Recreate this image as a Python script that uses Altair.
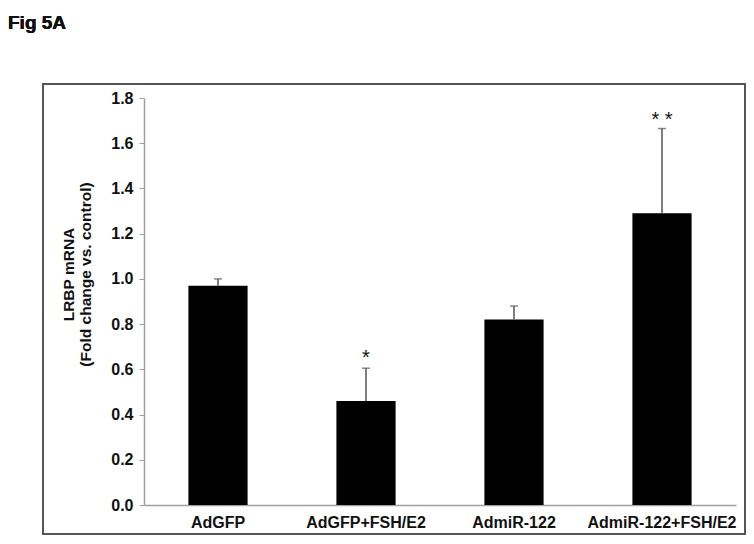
import altair as alt
import pandas as pd

groups = ["AdGFP", "AdGFP+FSH/E2", "AdmiR-122", "AdmiR-122+FSH/E2"]
means = [0.97, 0.46, 0.82, 1.29]
errors = [0.03, 0.145, 0.06, 0.375]
stars = ["", "*", "", "* *"]
star_pos = [None, 0.665, None, 1.715]

df = pd.DataFrame({"group": groups, "mean": means, "err": errors})
df["top"] = df["mean"] + df["err"]
sdf = pd.DataFrame({"group": groups, "star": stars, "pos": star_pos}).dropna()

W, H = 592, 407
FONT = "Liberation Sans"

xenc = alt.X("group:N", sort=groups, title=None,
             scale=alt.Scale(paddingInner=0.6, paddingOuter=0.3),
             axis=alt.Axis(labelAngle=0, labelFont=FONT, labelFontSize=16,
                           labelFontWeight="bold", labelColor="#111",
                           labelPadding=9, ticks=False, domainColor="#a0a0a0",
                           domainWidth=1.5))
yscale = alt.Scale(domain=[0, 1.8])

bars = alt.Chart(df).mark_bar(color="black").encode(
    x=xenc,
    y=alt.Y("mean:Q", scale=yscale,
            title=["LRBP mRNA", "(Fold change vs. control)"],
            axis=alt.Axis(values=[0, 0.2, 0.4, 0.6, 0.8, 1.0, 1.2, 1.4, 1.6, 1.8],
                          format=".1f", grid=False, labelFont=FONT, labelFontSize=16,
                          labelFontWeight="bold", labelColor="#111", labelPadding=6,
                          tickColor="#a0a0a0", tickSize=5, domainColor="#a0a0a0",
                          domainWidth=1.5, titleFont=FONT, titleFontSize=15.5,
                          titleFontWeight="bold", titleColor="#111",
                          titleX=-68, titleY=176, titleLineHeight=17)),
)

rules = alt.Chart(df).mark_rule(color="#555", strokeWidth=1.5).encode(
    x=alt.X("group:N", sort=groups), y="mean:Q", y2="top:Q")
caps = alt.Chart(df).mark_tick(color="#555", thickness=1.5, size=8).encode(
    x=alt.X("group:N", sort=groups), y="top:Q")
startxt = alt.Chart(sdf).mark_text(font=FONT, fontSize=20, color="#111",
                                   baseline="middle", dy=3).encode(
    x=alt.X("group:N", sort=groups), y="pos:Q", text="star:N")

border = alt.Chart(df).mark_rect(fill=None, stroke="#555", strokeWidth=1.5).encode(
    x=alt.value(-101), x2=alt.value(601), y=alt.value(-14), y2=alt.value(436))
fig = alt.Chart(df).mark_text(font=FONT, fontSize=19, fontWeight="bold",
                              align="left", baseline="top", color="#111").encode(
    x=alt.value(-136), y=alt.value(-84), text=alt.value("Fig 5A"))

chart = alt.layer(border, bars, rules, caps, startxt, fig).properties(
    width=W, height=H,
    autosize=alt.AutoSizeParams(type="none"),
    padding={"left": 136, "top": 90, "right": 10, "bottom": 30},
).configure_view(stroke=None)

chart.save("out.html", embed_options={"renderer": "svg", "actions": False})
